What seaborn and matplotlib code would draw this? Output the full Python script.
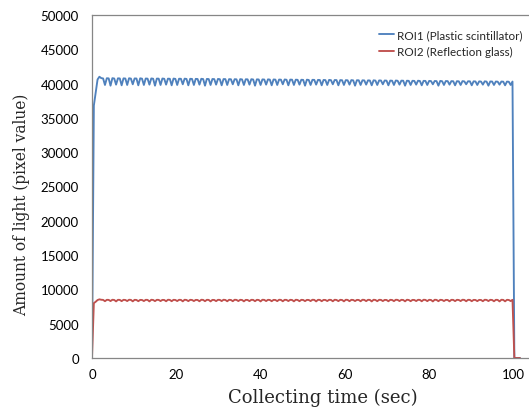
import numpy as np
import pandas as pd
import seaborn as sns
import matplotlib.pyplot as plt

# sampling interval of the camera frames (sec)
frame_interval = 0.44

series_names = ["ROI1 (Plastic scintillator)", "ROI2 (Reflection glass)"]
series_colors = ["#4F81BD", "#C0504D"]

# ROI1: light amount, one value per frame
roi1 = [
    0, 36800, 38700, 40600, 41000,
    40800, 40750, 39800, 40780, 40760, 39700, 40790, 40740, 39850, 40770, 40750, 39750,
    40760, 40740, 39800, 40780, 40730, 39900, 40750, 40740, 39750, 40770, 40720, 39800,
    40740, 40720, 39850, 40750, 40710, 39700, 40730, 40720, 39800, 40740, 40700, 39850,
    40720, 40700, 39750, 40730, 40690, 39800, 40710, 40700, 39900, 40720, 40680, 39750,
    40700, 40680, 39800, 40690, 40670, 39850, 40700, 40660, 39700, 40680, 40660, 39800,
    40670, 40650, 39850, 40680, 40640, 39750, 40660, 40650, 39800, 40650, 40630, 39900,
    40640, 40620, 39750, 40650, 40610, 39800, 40630, 40620, 39850, 40640, 40600, 39700,
    40620, 40600, 39800, 40610, 40590, 39850, 40620, 40580, 39750, 40600, 40580, 39800,
    40590, 40570, 39900, 40600, 40560, 39750, 40580, 40570, 39800, 40570, 40550, 39850,
    40560, 40540, 39700, 40570, 40530, 39800, 40550, 40540, 39850, 40540, 40520, 39750,
    40530, 40510, 39800, 40540, 40500, 39900, 40520, 40510, 39750, 40510, 40490, 39800,
    40500, 40480, 39850, 40510, 40470, 39700, 40490, 40480, 39800, 40480, 40460, 39850,
    40470, 40450, 39750, 40480, 40440, 39800, 40460, 40450, 39900, 40450, 40430, 39750,
    40440, 40420, 39800, 40450, 40410, 39850, 40430, 40420, 39700, 40420, 40400, 39800,
    40410, 40390, 39850, 40420, 40380, 39750, 40400, 40390, 39800, 40390, 40370, 39900,
    40380, 40360, 39700, 40390, 40350, 39800, 40370, 40360, 39850, 40360, 40340, 39750,
    40350, 40330, 39800, 40360, 40320, 39900, 40340, 40330, 39750, 40330, 40310, 39800,
    40320, 40300, 39850, 40330, 40290, 39700, 40310, 40300, 39800, 40300, 40280, 39850,
    40300, 40280, 39750, 40290, 40270, 39800,
    40300, 0, 0, 0, 0,
]

# ROI2: light amount, one value per frame
roi2 = [
    0, 8000, 8200, 8450, 8550,
    8490, 8470, 8280, 8480, 8470, 8300, 8490, 8460, 8250, 8480, 8470, 8290,
    8480, 8460, 8300, 8490, 8470, 8260, 8480, 8460, 8280, 8470, 8460, 8300,
    8480, 8470, 8250, 8490, 8460, 8290, 8480, 8470, 8300, 8470, 8460, 8270,
    8490, 8470, 8280, 8480, 8460, 8300, 8480, 8470, 8260, 8490, 8460, 8290,
    8480, 8460, 8300, 8470, 8460, 8270, 8490, 8470, 8280, 8480, 8470, 8250,
    8470, 8460, 8290, 8480, 8470, 8300, 8490, 8460, 8270, 8480, 8460, 8280,
    8490, 8470, 8300, 8480, 8460, 8260, 8470, 8460, 8290, 8480, 8470, 8280,
    8480, 8460, 8250, 8490, 8470, 8300, 8480, 8460, 8280, 8470, 8460, 8290,
    8490, 8470, 8270, 8480, 8470, 8300, 8480, 8460, 8260, 8490, 8460, 8280,
    8480, 8460, 8290, 8470, 8460, 8300, 8490, 8470, 8250, 8480, 8470, 8280,
    8470, 8460, 8300, 8480, 8470, 8270, 8490, 8460, 8290, 8480, 8460, 8260,
    8490, 8470, 8280, 8480, 8460, 8300, 8470, 8460, 8270, 8490, 8470, 8290,
    8480, 8470, 8250, 8490, 8460, 8280, 8480, 8470, 8300, 8470, 8460, 8270,
    8480, 8460, 8290, 8490, 8470, 8300, 8480, 8460, 8260, 8490, 8460, 8280,
    8470, 8460, 8300, 8480, 8470, 8270, 8490, 8470, 8290, 8480, 8460, 8250,
    8490, 8470, 8280, 8480, 8460, 8300, 8470, 8460, 8260, 8480, 8470, 8290,
    8480, 8460, 8300, 8490, 8470, 8270, 8480, 8470, 8280, 8470, 8460, 8290,
    8470, 8460, 8280, 8490, 8470, 8300, 8480, 8460, 8270, 8480, 8470, 8250,
    8490, 8470, 8260, 8480, 8460, 8300,
    8480, 0, 0, 0, 0,
]

x_ticks = [0, 20, 40, 60, 80, 100]
y_ticks = [0, 5000, 10000, 15000, 20000, 25000, 30000, 35000, 40000, 45000, 50000]

time = np.arange(len(roi1)) * frame_interval
df = pd.concat([
    pd.DataFrame({"time": time, "light": roi1, "roi": series_names[0]}),
    pd.DataFrame({"time": time, "light": roi2, "roi": series_names[1]}),
])

sns.set_style("white")
fig = plt.figure(figsize=(5.29, 4.10), dpi=100)
ax = fig.add_axes([92 / 529, 51 / 410, 437 / 529, 343 / 410])

sns.lineplot(data=df, x="time", y="light", hue="roi", estimator=None,
             palette=dict(zip(series_names, series_colors)), linewidth=1.35,
             ax=ax)

ax.set_xlim(0, 103.8)
ax.set_ylim(0, 50000)
ax.set_xticks(x_ticks)
ax.set_yticks(y_ticks)
ax.tick_params(axis="both", direction="out", length=3.5, width=0.8,
               color="#868686", labelsize=9.5, labelcolor="black")
ax.tick_params(axis="y", pad=6)
ax.tick_params(axis="x", pad=4)
for lab in ax.get_xticklabels() + ax.get_yticklabels():
    lab.set_family(["Lato", "DejaVu Sans"])

for side in ["left", "bottom", "top"]:
    ax.spines[side].set_color("#868686")
    ax.spines[side].set_linewidth(0.9)
ax.spines["right"].set_visible(False)

# axis titles sit where the spreadsheet put them
ax.set_xlabel("Collecting time (sec)", family="DejaVu Serif", fontsize=13)
ax.set_ylabel("Amount of light (pixel value)", family="DejaVu Serif",
              fontsize=11.2)
ax.xaxis.set_label_coords(0.529, -0.088)
ax.yaxis.set_label_coords(-0.142, 0.449)

leg = ax.legend(loc="upper right", bbox_to_anchor=(1.01, 0.99), frameon=False,
                handlelength=1.3, handletextpad=0.25, labelspacing=0.5,
                prop={"family": "Lato", "size": 8.4})

fig.savefig("out.png", dpi=100)
